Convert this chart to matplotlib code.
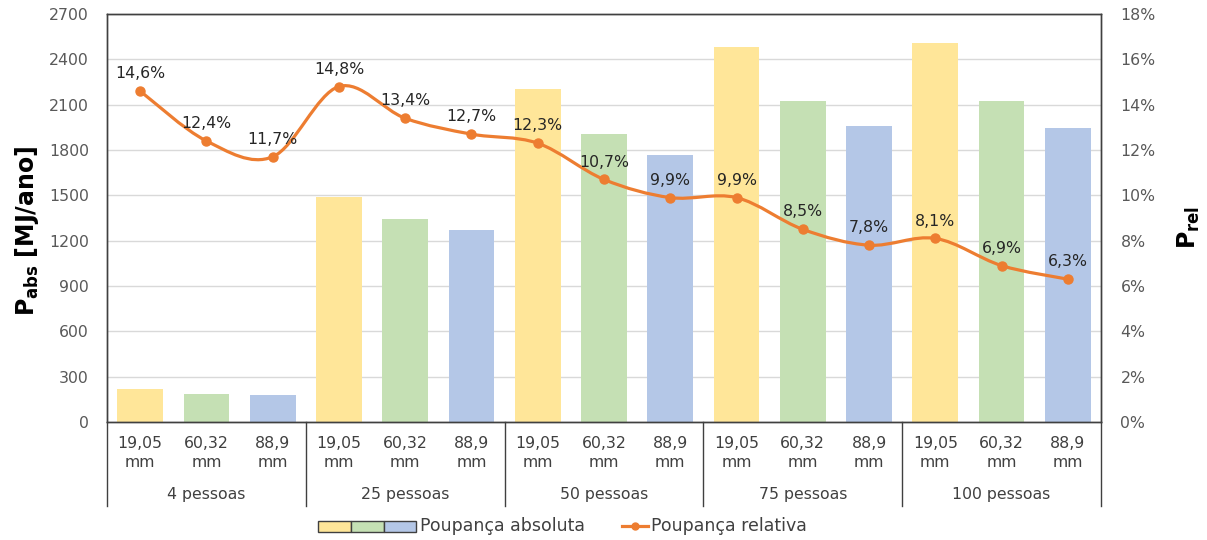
import numpy as np
import matplotlib
matplotlib.use("Agg")
import matplotlib.pyplot as plt
from matplotlib.path import Path
from matplotlib.patches import PathPatch, Rectangle
from matplotlib.lines import Line2D
from matplotlib.ticker import MultipleLocator, FuncFormatter
from matplotlib.transforms import blended_transform_factory

# ---- data ----
groups = ["4 pessoas", "25 pessoas", "50 pessoas", "75 pessoas", "100 pessoas"]
diameters = ["19,05\nmm", "60,32\nmm", "88,9\nmm"]
abs_savings = [221, 184, 178,
               1491, 1345, 1268,
               2204, 1906, 1770,
               2482, 2126, 1959,
               2510, 2126, 1948]
rel_savings = [14.6, 12.4, 11.7,
               14.8, 13.4, 12.7,
               12.3, 10.7, 9.9,
               9.9, 8.5, 7.8,
               8.1, 6.9, 6.3]
bar_colors = ["#FFE699", "#C5E0B4", "#B4C7E7"]
line_color = "#ED7D31"

text_gray = "#595959"
label_dark = "#404040"
frame_color = "#404040"
font = "DejaVu Sans"
plt.rcParams["font.family"] = [font]
plt.rcParams["mathtext.fontset"] = "dejavusans"

W, H = 1207, 540
fig = plt.figure(figsize=(W / 100, H / 100), dpi=100)
L, R, T, B = 107, 1101, 14, 422
ax = fig.add_axes([L / W, 1 - B / H, (R - L) / W, (B - T) / H])
ax2 = ax.twinx()

n = len(abs_savings)
x = np.arange(n)
colors = [bar_colors[i % 3] for i in range(n)]

# bars: absolute savings
ax.bar(x, abs_savings, width=0.69, color=colors, zorder=2)
ax.set_xlim(-0.5, n - 0.5)
ax.set_ylim(0, 2700)
ax.yaxis.set_major_locator(MultipleLocator(300))
ax.grid(axis="y", color="#d9d9d9", lw=1.0, zorder=0)
ax.set_axisbelow(True)
ax.tick_params(axis="y", length=0, pad=13, labelsize=11.3, labelcolor=text_gray)
ax.set_xticks(x)
ax.set_xticklabels([diameters[i % 3] for i in range(n)], linespacing=1.35)
ax.tick_params(axis="x", length=0, pad=10, labelsize=11.3, labelcolor=label_dark)
for s in ax.spines.values():
    s.set_color(frame_color)
    s.set_linewidth(1.0)
for s in ax2.spines.values():
    s.set_color(frame_color)
    s.set_linewidth(1.0)

# group separators and group names below the category axis
trans = blended_transform_factory(ax.transData, ax.transAxes)
sep_depth = -(506 - B) / (B - T)
for k in range(len(groups) + 1):
    xs = k * 3 - 0.5
    ax.add_line(Line2D([xs, xs], [0, sep_depth], transform=trans, color=frame_color,
                       lw=1.0, clip_on=False))
for k, g in enumerate(groups):
    ax.text(k * 3 + 1, -(495 - B) / (B - T), g, transform=trans, ha="center", va="center",
            fontsize=11.3, color=label_dark)

# relative savings: smoothed line on the secondary axis
def smooth_path(xs, ys, k=1 / 6):
    pts = np.column_stack([xs, ys]).astype(float)
    verts = [pts[0]]
    codes = [Path.MOVETO]
    for i in range(len(pts) - 1):
        p0 = pts[i - 1] if i > 0 else pts[i]
        p1 = pts[i]
        p2 = pts[i + 1]
        p3 = pts[i + 2] if i + 2 < len(pts) else pts[i + 1]
        verts += [p1 + (p2 - p0) * k, p2 - (p3 - p1) * k, p2]
        codes += [Path.CURVE4] * 3
    return Path(verts, codes)

ax2.add_patch(PathPatch(smooth_path(x, rel_savings), facecolor="none",
                        edgecolor=line_color, lw=2.3, capstyle="round", zorder=3))
ax2.plot(x, rel_savings, linestyle="none", marker="o", ms=6.5, color=line_color, zorder=4)
for xi, v in zip(x, rel_savings):
    ax2.annotate(f"{v:.1f}".replace(".", ",") + "%", (xi, v), xytext=(0, 12.5),
                 textcoords="offset points", ha="center", va="center",
                 fontsize=11.3, color="#262626", zorder=5)
ax2.set_ylim(0, 18)
ax2.yaxis.set_major_locator(MultipleLocator(2))
ax2.yaxis.set_major_formatter(FuncFormatter(lambda v, _: f"{v:.0f}%"))
ax2.tick_params(axis="y", length=0, pad=14, labelsize=11.3, labelcolor=text_gray)

# axis titles
fig.text(27 / W, 1 - 231 / H, r"$\mathbf{P_{abs}\ [MJ/ano]}$", rotation=90,
         ha="center", va="center", fontsize=17, color="black")
fig.text(1189 / W, 1 - 227 / H, r"$\mathbf{P_{rel}}$", rotation=90,
         ha="center", va="center", fontsize=17, color="black")

# legend
oax = fig.add_axes([0, 0, 1, 1], zorder=10)
oax.set_xlim(0, W)
oax.set_ylim(H, 0)
oax.axis("off")
sw = [(318, 351), (351, 384), (384, 416)]
for (x0, x1), c in zip(sw, bar_colors):
    oax.add_patch(Rectangle((x0, 521), x1 - x0, 11, facecolor=c, edgecolor=frame_color, lw=1.0))
oax.text(420, 526, "Poupança absoluta", ha="left", va="center", fontsize=12.5, color=label_dark)
oax.add_line(Line2D([622, 648], [526, 526], color=line_color, lw=2.3))
oax.plot([635], [526], marker="o", ms=5, color=line_color)
oax.text(651, 526, "Poupança relativa", ha="left", va="center", fontsize=12.5, color=label_dark)

fig.savefig("out.png", dpi=100, facecolor="white")
